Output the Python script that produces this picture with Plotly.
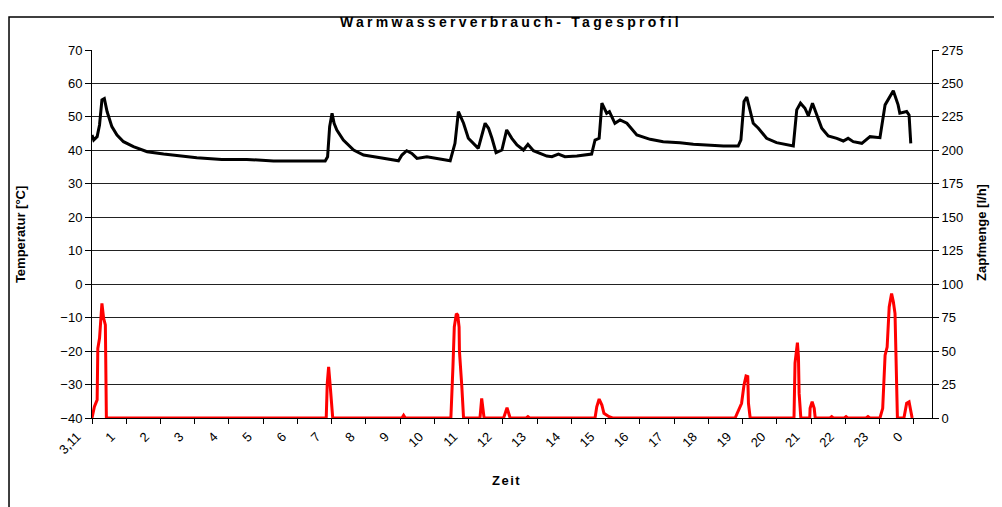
import plotly.graph_objects as go

# x positions in hours, category labels as in the original sheet
tick_pos = list(range(25))
tick_labels = ["3,11"] + [str(h) for h in range(1, 24)] + ["0"]

# temperature (left axis)
temp_t = [0.00, 0.05, 0.15, 0.22, 0.29, 0.36, 0.44, 0.58, 0.73, 0.92, 1.21, 1.61, 2.09, 2.58,
          3.06, 3.79, 4.52, 5.30, 6.81, 6.88, 6.94, 7.01, 7.07, 7.15, 7.34, 7.64, 7.93, 8.42,
          8.95, 9.05, 9.19, 9.34, 9.49, 9.78, 10.12, 10.46, 10.60, 10.70, 10.85, 10.99, 11.28,
          11.38, 11.48, 11.58, 11.68, 11.80, 11.97, 12.11, 12.26, 12.41, 12.60, 12.73, 12.89,
          13.28, 13.43, 13.62, 13.81, 14.16, 14.59, 14.69, 14.81, 14.89, 15.03, 15.11, 15.27,
          15.42, 15.62, 15.91, 16.30, 16.68, 17.17, 17.56, 18.44, 18.87, 18.95, 19.04, 19.12,
          19.19, 19.31, 19.46, 19.70, 19.99, 20.48, 20.58, 20.69, 20.82, 20.92, 21.04, 21.16,
          21.31, 21.50, 21.75, 21.94, 22.08, 22.23, 22.48, 22.72, 23.01, 23.16, 23.40, 23.54,
          23.59, 23.79, 23.86, 23.91]
temp_c = [44.6, 43.1, 44.1, 47.6, 55.1, 55.5, 51.6, 47.1, 44.6, 42.6, 41.1, 39.6, 38.9, 38.3,
          37.8, 37.3, 37.3, 36.8, 36.8, 38.1, 47.1, 51.1, 48.1, 46.1, 43.1, 40.1, 38.6, 37.8,
          36.9, 38.6, 39.9, 39.1, 37.6, 38.1, 37.6, 36.9, 42.1, 51.6, 48.1, 43.6, 40.6,
          44.1, 48.1, 46.6, 43.6, 39.3, 40.1, 46.1, 43.6, 41.6, 40.1, 41.8, 39.9,
          38.3, 38.1, 38.9, 38.1, 38.3, 38.9, 43.1, 43.6, 54.1, 51.1, 51.6, 48.1,
          49.1, 48.1, 44.6, 43.3, 42.6, 42.3, 41.8, 41.3, 41.3, 43.1, 54.6, 55.9,
          53.1, 48.1, 46.6, 43.6, 42.3, 41.3, 52.1, 54.1, 52.6, 50.3, 54.1, 50.6,
          46.6, 44.3, 43.6, 42.8, 43.6, 42.6, 42.1, 44.1, 43.8, 53.6, 57.8, 53.6,
          51.1, 51.6, 50.6, 42.1]

# draw-off flow (right axis)
flow_t = [0.00, 0.07, 0.15, 0.17, 0.22, 0.26, 0.29, 0.34, 0.39, 0.42,
          6.84, 6.87, 6.91, 6.95, 7.00, 7.03,
          9.05, 9.10, 9.15,
          10.48, 10.54, 10.58, 10.64, 10.68, 10.72, 10.73, 10.80, 10.85,
          11.33, 11.38, 11.45,
          12.02, 12.12, 12.21,
          12.68, 12.73, 12.78,
          14.69, 14.74, 14.81, 14.89, 14.95, 15.10, 15.20,
          18.78, 18.87, 18.97, 19.04, 19.10, 19.15, 19.17, 19.22,
          20.50, 20.53, 20.60, 20.63, 20.65, 20.70,
          20.96, 20.97, 21.03, 21.09, 21.12,
          21.55, 21.60, 21.65,
          21.97, 22.02, 22.07,
          22.60, 22.66, 22.72,
          23.01, 23.09, 23.16, 23.22, 23.28, 23.35, 23.40, 23.45, 23.48, 23.52,
          23.71, 23.79, 23.86, 23.91, 23.95]
flow_lh = [0, 8.4, 13.5, 52, 59.6, 74.5, 85.7, 74.5, 69.5, 0,
           0, 26, 38.3, 26, 11, 0,
           0, 2, 0,
           0, 38, 68, 78, 77, 68, 50, 23.4, 0,
           0, 14.7, 0,
           0, 7.7, 0,
           0, 1, 0,
           0, 8.4, 14.2, 9.7, 3.5, 1, 0,
           0, 4.7, 11, 24.7, 31.4, 31, 11, 0,
           0, 41, 56.3, 45.8, 18.4, 0,
           0, 7.2, 12.2, 7.2, 0,
           0, 1, 0,
           0, 1, 0,
           0, 1, 0,
           0, 7.2, 47, 53, 83, 93, 87, 78, 43, 0,
           0, 11, 12, 5, 0]

fig = go.Figure()
fig.add_trace(go.Scatter(x=temp_t, y=temp_c, mode="lines",
                         line=dict(color="black", width=3), name="Temperatur"))
fig.add_trace(go.Scatter(x=flow_t, y=flow_lh, mode="lines", yaxis="y2",
                         line=dict(color="#ff0000", width=3), name="Zapfmenge"))

font_main = "Liberation Sans, Arial, sans-serif"

# the page body adds an 8px offset, so the figure is 8px smaller than the window
fig.update_layout(
    width=994, height=499,
    margin=dict(l=84, r=70, t=42, b=89),
    paper_bgcolor="white", plot_bgcolor="white",
    showlegend=False,
    font=dict(family=font_main, size=13, color="black"),
    title=dict(text='<b><span style="letter-spacing:3.3px">Warmwasserverbrauch- Tagesprofil</span></b>',
               x=0.506, xanchor="center", y=0.972, yanchor="middle", font=dict(size=14)),
    xaxis=dict(range=[0, 24.53], tickvals=tick_pos, ticktext=tick_labels, tickangle=-45,
               ticklabelshift=-15, ticks="outside", ticklen=5, tickcolor="black",
               showgrid=False, showline=True, linecolor="black", linewidth=1, zeroline=False),
    yaxis=dict(range=[-40, 70], dtick=10, ticks="outside", ticklen=6, tickcolor="black",
               showgrid=True, gridcolor="#222", gridwidth=1, zeroline=False,
               showline=True, linecolor="black", linewidth=1),
    yaxis2=dict(range=[0, 275], dtick=25, overlaying="y", side="right", ticks="outside",
                ticklen=6, tickcolor="black", showgrid=False, zeroline=False,
                showline=True, linecolor="black", linewidth=1),
    annotations=[
        dict(text="<b>Temperatur [°C]</b>", xref="paper", yref="paper", x=-0.0857, y=0.497,
             textangle=-90, showarrow=False, xanchor="center", yanchor="middle",
             font=dict(size=13)),
        dict(text="<b>Zapfmenge [l/h]</b>", xref="paper", yref="paper", x=1.058, y=0.505,
             textangle=-90, showarrow=False, xanchor="center", yanchor="middle",
             font=dict(size=13)),
        dict(text='<b><span style="letter-spacing:1.5px">Zeit</span></b>', xref="paper",
             yref="paper", x=0.493, y=-0.171, showarrow=False, xanchor="center",
             yanchor="middle", font=dict(size=13)),
    ],
    shapes=[dict(type="rect", xref="paper", yref="paper", x0=-0.0988, x1=1.3, y0=-0.6, y1=1.0897,
                 line=dict(color="black", width=1.5), fillcolor="rgba(0,0,0,0)", layer="below")],
)

fig.write_html("out.html")
